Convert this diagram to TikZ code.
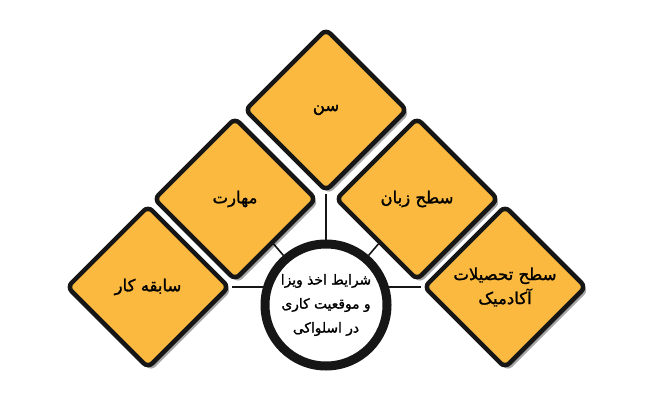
\documentclass[tikz,border=0pt]{standalone}
\usepackage{fontspec}
\newfontfamily\fa[Script=Arabic,FakeBold=1.3]{DejaVu Sans}
\TeXXeTstate=1
\usetikzlibrary{shapes.geometric,shadows,backgrounds}
\definecolor{dia}{HTML}{FBB940}
\definecolor{ink}{HTML}{161616}
\begin{document}
\begin{tikzpicture}[x=1pt,y=1pt,
  dbox/.style={diamond, aspect=1, minimum size=163pt, inner sep=0pt,
    fill=dia, draw=ink, line width=4.5pt, rounded corners=6pt,
    drop shadow={shadow xshift=3pt, shadow yshift=-3.5pt, opacity=0.35, fill=black},
    font=\fa\fontsize{16.5}{24}\selectfont, align=center},
  hub/.style={circle, minimum size=122pt, inner sep=0pt, fill=white,
    draw=ink, line width=9pt,
    drop shadow={shadow xshift=3pt, shadow yshift=-3.5pt, opacity=0.35, fill=black},
    font=\fa\fontsize{13.8}{24}\selectfont, align=center},
  link/.style={draw=ink, line width=1.6pt}]
\useasboundingbox (0,0) rectangle (650,400);
\node[dbox] (sen) at (326,290) {\beginR سن\endR};
\node[dbox] (mah) at (235,201) {\beginR مهارت\endR};
\node[dbox] (zab) at (417,201) {\beginR سطح زبان\endR};
\node[dbox] (sab) at (148,113) {\beginR سابقه کار\endR};
\node[dbox] (tah) at (505,113) {\beginR سطح تحصیلات\endR\\\beginR آکادمیک\endR};
\node[hub] (hub) at (326,95) {\beginR شرایط اخذ ویزا\endR\\\beginR و موقعیت کاری\endR\\\beginR در اسلواکی\endR};
\begin{scope}[on background layer]
  \fill[white] (0,0) rectangle (650,400);
  \draw[link] (sen) -- (hub);
  \draw[link] (mah) -- (hub);
  \draw[link] (zab) -- (hub);
  \draw[link] (sab) -- (sab -| hub);
  \draw[link] (tah) -- (tah -| hub);
\end{scope}
\end{tikzpicture}
\end{document}
